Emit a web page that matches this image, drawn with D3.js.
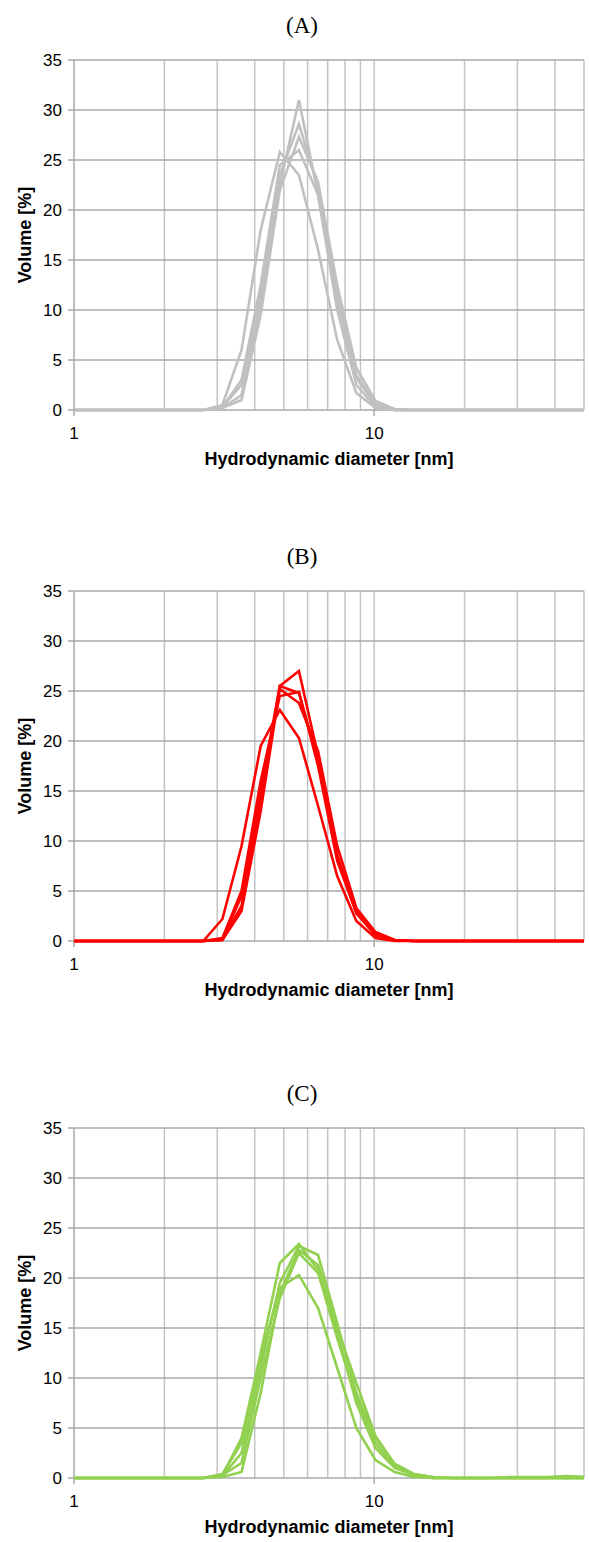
<!DOCTYPE html>
<html><head><meta charset="utf-8">
<script src="https://cdn.jsdelivr.net/npm/d3@7"></script>
<style>body{margin:0;background:#fff}svg{display:block}</style>
</head><body>
<script>
// Malvern size bins (nm)
const bins = [0.9649,1.117,1.294,1.499,1.736,2.010,2.328,2.696,3.122,3.615,4.187,4.849,5.615,6.503,7.531,8.721,10.10,11.70,13.54,15.69,18.17,21.04,24.36,28.21,32.67,37.84,43.82,50.75];
const titles = ["(A)","(B)","(C)"];
const yTicks = [0,5,10,15,20,25,30,35];
const xTickLabels = [1,10];
const xGrid = [2,3,4,5,6,7,8,9,10,20,30,40,50];
const xTitle = "Hydrodynamic diameter [nm]";
const yTitle = "Volume [%]";

const seriesA = [
  [0,0,0,0,0,0,0, 0,0.2,1.5,10.5,22.5,31.0,21.5,10.0,2.5,0.3,0, 0,0,0,0,0,0,0,0,0,0],
  [0,0,0,0,0,0,0, 0,0.3,2.5,11.5,23.5,28.6,22.3,11.5,3.5,0.6,0, 0,0,0,0,0,0,0,0,0,0],
  [0,0,0,0,0,0,0, 0,0.2,1.0,9.5,22.0,27.3,22.8,12.5,4.2,0.9,0.1, 0,0,0,0,0,0,0,0,0,0],
  [0,0,0,0,0,0,0, 0,0.3,3.0,12.5,24.5,26.0,21.5,11.0,3.2,0.5,0, 0,0,0,0,0,0,0,0,0,0],
  [0,0,0,0,0,0,0, 0,0.5,6.0,18.0,25.8,23.5,16.0,7.0,1.7,0.2,0, 0,0,0,0,0,0,0,0,0,0]
];
const seriesB = [
  [0,0,0,0,0,0,0, 0,0.1,3.5,14.0,25.5,27.0,18.5,8.5,2.8,0.6,0.1, 0,0,0,0,0,0,0,0,0,0],
  [0,0,0,0,0,0,0, 0,0.2,4.5,15.0,25.5,24.8,18.0,8.5,3.0,0.8,0.1, 0,0,0,0,0,0,0,0,0,0],
  [0,0,0,0,0,0,0, 0,0.1,3.0,13.0,25.2,23.8,19.0,9.5,3.3,0.9,0.1, 0,0,0,0,0,0,0,0,0,0],
  [0,0,0,0,0,0,0, 0,0.3,5.0,16.0,24.5,24.9,17.5,8.0,2.8,0.6,0.1, 0,0,0,0,0,0,0,0,0,0],
  [0,0,0,0,0,0,0, 0,2.2,9.5,19.5,23.1,20.3,13.5,6.5,2.0,0.3,0, 0,0,0,0,0,0,0,0,0,0]
];
const seriesC = [
  [0,0,0,0,0,0,0, 0,0.3,4.0,12.5,21.5,23.4,20.8,14.5,7.5,3.0,1.0,0.3,0, 0,0,0,0,0,0,0,0],
  [0,0,0,0,0,0,0, 0,0.2,2.5,11.0,19.5,23.2,22.3,15.5,8.5,4.0,1.4,0.4,0.1, 0,0,0,0.1,0.1,0.1,0.2,0.1],
  [0,0,0,0,0,0,0, 0,0.1,0.6,8.5,18.5,22.8,21.3,15.0,9.5,4.2,1.4,0.4,0.1, 0,0,0,0,0,0,0,0],
  [0,0,0,0,0,0,0, 0,0.3,1.5,10.0,18.0,22.5,20.5,14.0,8.0,3.5,1.1,0.3,0, 0,0,0,0,0,0,0,0],
  [0,0,0,0,0,0,0, 0,0.4,3.5,12.0,19.0,20.3,17.0,11.0,5.0,1.8,0.6,0.1,0, 0,0,0,0,0,0,0,0]
];
const allSeries = [seriesA, seriesB, seriesC];
const colors = ["#c0c0c0","#ff0000","#92d050"];

const W = 589, H = 1542;
const panelTops = [60, 591, 1128];
const plotH = 350;
const left = 74, right = 584;
const sans = "Liberation Sans, Arial, sans-serif";

const svg = d3.select("body").append("svg").attr("width", W).attr("height", H);
const x = d3.scaleLog().domain([1, 50]).range([left, right]);

allSeries.forEach((series, pi) => {
  const top = panelTops[pi], bottom = top + plotH;
  const y = d3.scaleLinear().domain([0, 35]).range([bottom, top]);
  const g = svg.append("g");

  g.selectAll(".vg").data(xGrid).enter().append("line")
    .attr("x1", d => x(d)).attr("x2", d => x(d))
    .attr("y1", top).attr("y2", bottom)
    .attr("stroke", "#c4c4c4").attr("stroke-width", 1.5);
  g.selectAll(".hg").data(yTicks.filter(d => d > 0)).enter().append("line")
    .attr("x1", left).attr("x2", right)
    .attr("y1", d => y(d)).attr("y2", d => y(d))
    .attr("stroke", "#a8a8a8").attr("stroke-width", 1.5);
  g.append("line").attr("x1", left).attr("x2", left).attr("y1", top).attr("y2", bottom)
    .attr("stroke", "#a8a8a8").attr("stroke-width", 1.5);
  g.append("line").attr("x1", left).attr("x2", right).attr("y1", bottom).attr("y2", bottom)
    .attr("stroke", "#a8a8a8").attr("stroke-width", 1.5);
  g.selectAll(".yt").data(yTicks).enter().append("line")
    .attr("x1", left - 6).attr("x2", left).attr("y1", d => y(d)).attr("y2", d => y(d))
    .attr("stroke", "#a8a8a8").attr("stroke-width", 1.5);
  g.selectAll(".yl").data(yTicks).enter().append("text")
    .attr("x", left - 12).attr("y", d => y(d)).attr("dy", "0.36em")
    .attr("text-anchor", "end").attr("font-family", sans)
    .attr("font-size", 17).attr("fill", "#000").text(d => d);
  g.selectAll(".xt").data(xTickLabels).enter().append("line")
    .attr("x1", d => x(d)).attr("x2", d => x(d)).attr("y1", bottom).attr("y2", bottom + 6)
    .attr("stroke", "#a8a8a8").attr("stroke-width", 1.5);
  g.selectAll(".xl").data(xTickLabels).enter().append("text")
    .attr("x", d => x(d)).attr("y", bottom + 29)
    .attr("text-anchor", "middle").attr("font-family", sans)
    .attr("font-size", 17).attr("fill", "#000").text(d => d);
  g.append("text").attr("x", 329).attr("y", bottom + 55).attr("text-anchor", "middle")
    .attr("font-family", sans).attr("font-weight", "bold")
    .attr("font-size", 18).attr("fill", "#000").text(xTitle);
  g.append("text").attr("transform", `translate(31,${(top + bottom) / 2}) rotate(-90)`)
    .attr("text-anchor", "middle").style("white-space", "pre")
    .attr("font-family", sans).attr("font-weight", "bold")
    .attr("font-size", 18).attr("fill", "#000").text(yTitle);
  g.append("text").attr("x", 302).attr("y", top - 27).attr("text-anchor", "middle")
    .attr("font-family", "Liberation Serif, Times New Roman, serif")
    .attr("font-size", 23).attr("fill", "#000").text(titles[pi]);

  const cid = "clip" + pi;
  svg.append("clipPath").attr("id", cid).append("rect")
    .attr("x", left).attr("y", top - 5).attr("width", right - left).attr("height", plotH + 10);
  const line = d3.line().x((d, i) => x(bins[i])).y(d => y(d));
  g.append("g").attr("clip-path", `url(#${cid})`)
    .selectAll("path").data(series).enter().append("path")
    .attr("d", line).attr("fill", "none")
    .attr("stroke", colors[pi]).attr("stroke-width", 2.6).attr("stroke-linejoin", "miter");
});
</script>
</body></html>
